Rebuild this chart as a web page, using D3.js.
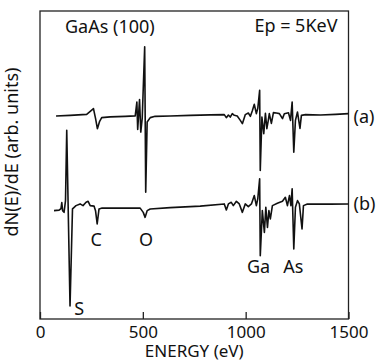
<!DOCTYPE html>
<html>
<head>
<meta charset="utf-8">
<script src="https://cdn.jsdelivr.net/npm/d3@7"></script>
<style>
  body { margin: 0; background: #fff; }
  svg text { font-family: "Noto Sans", "Open Sans", sans-serif; fill: #111; }
</style>
</head>
<body>
<div id="chart"></div>
<script>
// spectrum (a): energy (eV) and dN/dE (arb.)
var energyA = [78, 146, 227, 260, 270, 279, 290, 300, 341, 414, 463, 471, 475, 484, 490, 497, 509, 514, 521, 536, 560, 633, 730, 828, 896, 906, 916, 925, 935, 945, 959, 974, 984, 998, 1013, 1023, 1032, 1042, 1052, 1059, 1068, 1071, 1079, 1088, 1096, 1103, 1110, 1115, 1125, 1135, 1149, 1164, 1179, 1188, 1208, 1218, 1226, 1234, 1242, 1252, 1264, 1271, 1291, 1364, 1437, 1500];
var signalA = [0.3, 1, 2, 7.7, -2, -12.3, -5, -1.3, -0.5, 0, 0.5, 14.3, -13, 16.7, -15.7, -2, 69.3, -75.7, -5.7, -1.3, 0, 0.3, 1, 1.5, 1.7, -1.3, 1.3, -0.7, 2.7, 1, 0.3, -4, -7.3, 1.7, 3.3, 0, 5.3, 12, 2.7, 8, 26, -54, -0.7, -17.3, 3, -12.3, -4, 2.7, -7, 3.7, 3.3, 2.7, -2.3, 2.5, 3.5, -4, 14.3, -35.7, -4, 4.3, -12, 1, 1.7, 1.3, 2, 2.7];

// spectrum (b)
var energyB = [68, 93, 102, 106, 110, 117, 124, 130, 146, 158, 166, 175, 195, 209, 224, 234, 244, 263, 270, 278, 287, 302, 390, 487, 502, 511, 521, 536, 633, 779, 896, 906, 916, 930, 940, 955, 969, 984, 998, 1013, 1028, 1042, 1052, 1059, 1068, 1071, 1081, 1091, 1098, 1106, 1113, 1120, 1130, 1154, 1179, 1193, 1203, 1213, 1220, 1226, 1234, 1242, 1252, 1261, 1274, 1281, 1300, 1412, 1500];
var signalB = [-3, -2.5, -1, 5, -3, -4.7, 7, 77, -98, -1.3, 0.3, 2, 3.7, 2, 5.3, 6.3, 2, 1.5, -3, -16.3, -1.3, -0.3, -0.5, -0.5, -4.7, -9.7, -3, -1.3, 0, 1.5, 3.7, -2.3, 3.7, 5.3, 2, 6.3, 3.7, -4.7, 3.7, 1, 3.7, 12, 2, 9, 28.7, -48, -3, -24.7, 0.3, -19.7, -3, -11.3, 2, 4.3, 6.3, 10.3, 2, 12, 2, 18.7, -41.3, 0.3, 7, 3.7, -21.3, 2, 3.7, 3.5, 3.7];

var seriesNames = ["(a)", "(b)"];
var seriesOffsets = [202, 111];
var seriesLabelLevels = [202, 115];

// element labels: name, energy, level (arb.)
var peakNames = ["S", "C", "O", "Ga", "As"];
var peakEnergies = [190, 273, 516, 1063, 1232];
var peakLevels = [10, 79, 79, 52, 52];

var xTicks = [0, 500, 1000, 1500];

var W = 376, H = 361;
var margin = {top: 11, right: 27.5, bottom: 42, left: 40};
var width = W - margin.left - margin.right;
var height = H - margin.top - margin.bottom;
var fs = "18px";

var x = d3.scaleLinear().domain([0, 1500]).range([0, width]);
var y = d3.scaleLinear().domain([0, 307]).range([height, 0]);

var svg = d3.select("#chart").append("svg")
    .attr("width", W)
    .attr("height", H)
    .append("g")
    .attr("transform", "translate(" + margin.left + "," + margin.top + ")");

// frame
svg.append("rect")
    .attr("width", width)
    .attr("height", height)
    .attr("fill", "none")
    .attr("stroke", "#222")
    .attr("stroke-width", 1.3);

// x axis, ticks pointing inward
var xAxis = svg.append("g")
    .attr("transform", "translate(0," + height + ")")
    .call(d3.axisBottom(x).tickValues(xTicks).tickFormat(d3.format("d"))
        .tickSizeInner(-7).tickSizeOuter(0).tickPadding(6.5));
xAxis.select(".domain").remove();
xAxis.selectAll("line").attr("stroke", "#222").attr("stroke-width", 1.3);
xAxis.selectAll("text").style("font-size", "17px").attr("fill", "#111");

// x axis label sits right at the bottom edge
svg.append("text")
    .attr("x", x(750))
    .attr("y", height + 38)
    .attr("text-anchor", "middle")
    .style("font-size", "17px")
    .text("ENERGY (eV)");

svg.append("text")
    .attr("transform", "rotate(-90)")
    .attr("x", -141)
    .attr("y", -22)
    .attr("text-anchor", "middle")
    .style("font-size", fs)
    .text("dN(E)/dE (arb. units)");

// spectra
var line = d3.line()
    .x(d => x(d[0]))
    .y(d => y(d[1]));

var spectra = [
    d3.zip(energyA, signalA.map(v => v + seriesOffsets[0])),
    d3.zip(energyB, signalB.map(v => v + seriesOffsets[1]))
];

svg.selectAll(".spectrum")
    .data(spectra)
    .enter().append("path")
    .attr("class", "spectrum")
    .attr("d", line)
    .attr("fill", "none")
    .attr("stroke", "#111")
    .attr("stroke-width", 1.6)
    .attr("stroke-linejoin", "round");

// series labels on the right
svg.selectAll(".serieslabel")
    .data(seriesNames)
    .enter().append("text")
    .attr("class", "serieslabel")
    .attr("x", width + 5)
    .attr("y", (d, i) => y(seriesLabelLevels[i]) + 6.5)
    .style("font-size", fs)
    .text(d => d);

// element labels
svg.selectAll(".peaklabel")
    .data(peakNames)
    .enter().append("text")
    .attr("class", "peaklabel")
    .attr("x", (d, i) => x(peakEnergies[i]))
    .attr("y", (d, i) => y(peakLevels[i]) + 6.5)
    .attr("text-anchor", "middle")
    .style("font-size", fs)
    .text(d => d);

// corner annotations
svg.append("text")
    .attr("x", 25)
    .attr("y", 21.5)
    .style("font-size", fs)
    .text("GaAs (100)");

svg.append("text")
    .attr("x", width - 11)
    .attr("y", 21)
    .attr("text-anchor", "end")
    .style("font-size", fs)
    .text("Ep = 5KeV");
</script>
</body>
</html>
